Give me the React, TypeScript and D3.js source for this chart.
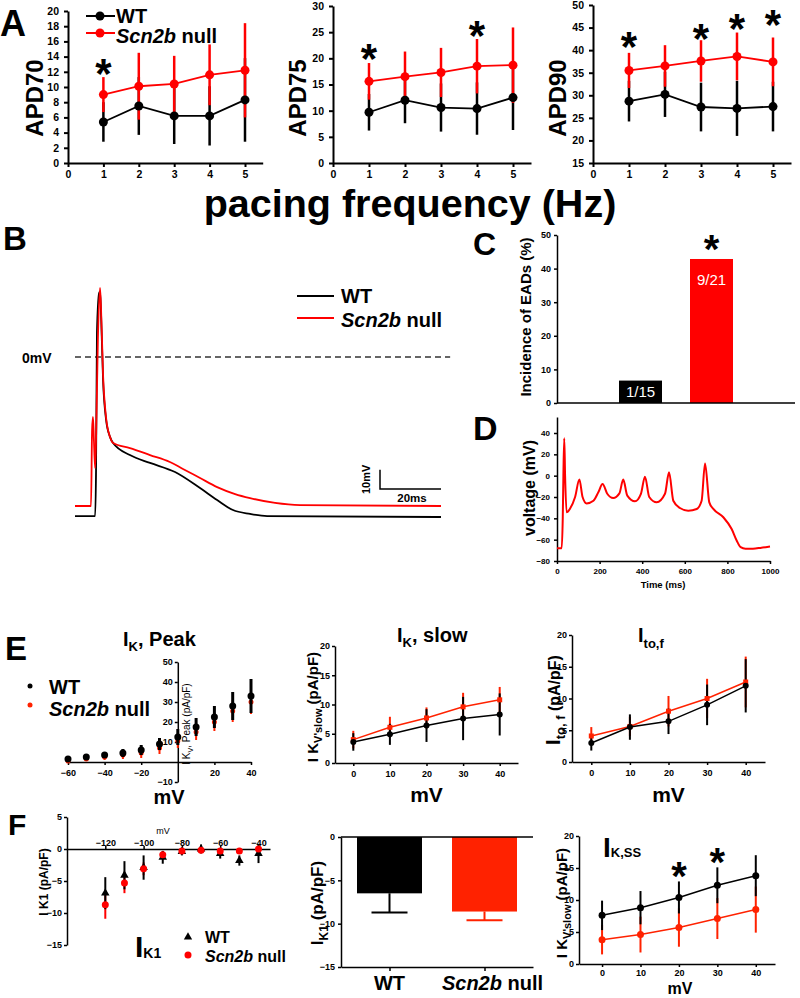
import React, { useEffect, useRef } from "react";
import * as d3 from "d3";

const FONT = "'Liberation Sans', Arial, Helvetica, sans-serif";
const RED = "#ff0000";
const RED2 = "#ff2200";

// ---- A: APD vs pacing frequency ----
const freqs = [1, 2, 3, 4, 5];
const apd70WT = [5.4, 7.5, 6.2, 6.2, 8.3];
const apd70WTsd = [2.6, 3.8, 3.7, 3.9, 5.5];
const apd70KO = [9.0, 10.1, 10.4, 11.6, 12.2];
const apd70KOsd = [2.3, 4.4, 3.7, 4.0, 6.2];
const apd70Star = [{ f: 1, v: 12.9 }];

const apd75WT = [9.7, 12.0, 10.6, 10.4, 12.5];
const apd75WTsd = [3.5, 4.4, 4.6, 5.0, 6.2];
const apd75KO = [15.6, 16.5, 17.3, 18.5, 18.7];
const apd75KOsd = [3.5, 4.8, 4.7, 5.2, 7.2];
const apd75Star = [{ f: 1, v: 21.6 }, { f: 4, v: 26 }];

const apd90WT = [28.7, 30.2, 27.4, 27.1, 27.5];
const apd90WTsd = [4.5, 5.0, 5.4, 6.1, 5.5];
const apd90KO = [35.5, 36.5, 37.6, 38.6, 37.4];
const apd90KOsd = [3.9, 4.6, 4.6, 5.3, 5.4];
const apd90Star = [{ f: 1, v: 42.7 }, { f: 3, v: 44.5 }, { f: 4, v: 46.7 }, { f: 5, v: 47.6 }];

// ---- B: action potentials (ms, mV) ----
const bTimeWT = [0, 6.6, 6.9, 7.2, 7.9, 8.2, 8.5, 9.2, 10.2, 11.5, 12.5, 18, 24.6, 32.8, 41, 46.6, 51.8, 57.4, 63, 120];
const bVoltWT = [-82.4, -82.4, -58.5, 13, 33, 34, 24.4, -11.9, -32.6, -41.5, -44.6, -50.8, -54.9, -59.6, -67.9, -74.1, -79.3, -81.3, -82.4, -82.9];
const bTimeKO = [0, 5.25, 5.6, 5.9, 6.2, 6.6, 6.9, 7.5, 8.2, 8.5, 9.2, 10.2, 11.5, 12.5, 18, 24.6, 31.1, 35.4, 41, 46.6, 52.5, 57.4, 65.6, 73.8, 120];
const bVoltKO = [-77.2, -77.2, -37.8, -31.1, -43, -57.5, -43, 8.8, 35.8, 26.9, -9.3, -31.6, -41.5, -44.6, -47.2, -50.8, -54.4, -58, -62.7, -67.4, -71, -73.1, -75.6, -76.7, -77.2];

// ---- C: incidence of EADs ----
const cGroups = ["WT", "Scn2b null"];
const cValues = [6.67, 42.86];
const cLabels = ["1/15", "9/21"];
const cStar = 48.2;

// ---- D: EAD trace ----
const dTime = [0, 22, 27, 30, 34, 38, 45, 61, 85, 105, 120, 139, 171, 194, 214, 236, 264, 293, 311, 330, 366, 394, 413, 433, 468, 507, 526, 546, 577, 616, 656, 679, 695, 715, 734, 781, 820, 844, 862, 885, 920, 960, 1000];
const dVolt = [-68, -68, -40, 0, 35, 0, -34.4, -31, -20, -3.7, -20, -26, -23.5, -15.6, -7.8, -17, -21, -16.6, -3.7, -18.7, -24, -17, -0.9, -20, -25, -17, 3.1, -23.5, -30.3, -32.8, -31.2, -23.5, 11.5, -25, -31.2, -39, -50, -61, -67, -68.5, -68.5, -67.5, -66.5];

// ---- E: I-V curves ----
const ePeakV = [-60, -50, -40, -30, -20, -10, 0, 10, 20, 30, 40];
const ePeakWT = [1.5, 2.5, 3.5, 4.5, 6, 9, 12.5, 17.5, 22.5, 28, 33];
const ePeakWTsd = [1, 1, 1.5, 2, 2.5, 3, 4, 4.5, 5.5, 7, 8.5];
const ePeakKO = [0.5, 1.5, 2.5, 3.5, 4.5, 7, 10.5, 15, 20, 25.5, 30];
const ePeakKOsd = [1, 1, 1.5, 2, 2.5, 3, 3.5, 4, 4.5, 5.5, 6];

const eV = [0, 10, 20, 30, 40];
const eSlowWT = [3.6, 4.9, 6.4, 7.6, 8.3];
const eSlowWTsd = [1.5, 1.8, 2.8, 3.7, 3.6];
const eSlowKO = [4.0, 6.1, 7.7, 9.6, 10.8];
const eSlowKOsd = [1.5, 1.8, 1.8, 2.4, 2.2];

const eItoWT = [3.0, 5.5, 6.4, 9.0, 12.0];
const eItoWTsd = [1.2, 2.0, 2.0, 3.2, 4.2];
const eItoKO = [4.1, 5.6, 8.0, 10.0, 12.6];
const eItoKOsd = [1.4, 1.5, 2.4, 3.1, 4.0];

// ---- F ----
const fV = [-120, -110, -100, -90, -80, -70, -60, -50, -40];
const fK1WT = [-6.9, -4.1, -2.9, -1.3, -0.4, 0, -0.7, -1.8, -0.7];
const fK1WTsd = [2.5, 2.2, 1.9, 1.0, 0.6, 0.7, 0.8, 0.8, 1.5];
const fK1KO = [-8.7, -5.3, -3.1, -0.9, -0.3, -0.2, -0.3, -0.3, 0];
const fK1KOsd = [2.2, 1.6, 1.0, 0.6, 0.4, 0.3, 0.3, 0.4, 0.3];

const fBarGroups = ["WT", "Scn2b null"];
const fBarMean = [-6.5, -8.6];
const fBarErr = [2.2, 1.0];

const fSsWT = [7.6, 8.8, 10.4, 12.3, 13.8];
const fSsWTsd = [2.3, 2.6, 2.5, 2.8, 3.2];
const fSsKO = [3.8, 4.6, 5.7, 7.1, 8.5];
const fSsKOsd = [2.3, 2.8, 3.0, 3.2, 3.6];
const fSsStars = [{ v: 20, y: 15.1 }, { v: 30, y: 17.3 }];

const fmt = d3.format("d");

//---- helpers ----//
function txt(g, x, y, s, fs, o: any = {}) {
  const t = g.append("text").attr("x", x).attr("y", y).attr("font-size", fs)
    .attr("font-family", FONT).attr("font-weight", o.weight || "bold")
    .attr("fill", o.fill || "#000").attr("text-anchor", o.anchor || "start");
  if (o.rotate) t.attr("transform", `rotate(${o.rotate},${x},${y})`);
  t.text(s);
  return t;
}

function rich(g, x, y, parts, o: any = {}) {
  const t = g.append("text").attr("x", x).attr("y", y).attr("font-family", FONT)
    .attr("font-weight", o.weight || "bold").attr("fill", "#000")
    .attr("text-anchor", o.anchor || "start");
  if (o.rotate) t.attr("transform", `rotate(${o.rotate},${x},${y})`);
  let shift = 0;
  parts.forEach((p) => {
    const s = p.sub || 0;
    t.append("tspan").attr("font-size", p.fs).attr("dy", s - shift)
      .attr("font-style", p.italic ? "italic" : null).text(p.t);
    shift = s;
  });
  return t;
}

function styleAxis(a, fs, sw = 1.5) {
  a.attr("font-family", FONT).attr("font-size", fs);
  a.select(".domain").attr("stroke", "#000").attr("stroke-width", sw);
  a.selectAll(".tick line").attr("stroke", "#000").attr("stroke-width", sw);
  a.selectAll(".tick text").attr("fill", "#000").attr("font-weight", "bold");
}

function errBars(g, xs, ms, sds, x, y, color, w) {
  g.append("g").selectAll("line").data(xs).join("line")
    .attr("x1", (d) => x(d)).attr("x2", (d) => x(d))
    .attr("y1", (d, i) => y(ms[i] - sds[i])).attr("y2", (d, i) => y(ms[i] + sds[i]))
    .attr("stroke", color).attr("stroke-width", w);
}

function lineDots(g, xs, ms, x, y, color, lw, r, shape = "circle") {
  const pts = xs.map((d, i) => [x(d), y(ms[i])]);
  if (lw > 0) {
    g.append("path").attr("d", d3.line()(pts)).attr("fill", "none")
      .attr("stroke", color).attr("stroke-width", lw);
  }
  if (shape === "circle") {
    g.append("g").selectAll("circle").data(pts).join("circle")
      .attr("cx", (d) => d[0]).attr("cy", (d) => d[1]).attr("r", r).attr("fill", color);
  } else {
    const sym = d3.symbol(shape === "square" ? d3.symbolSquare : d3.symbolTriangle, r * r * 4);
    g.append("g").selectAll("path").data(pts).join("path")
      .attr("transform", (d) => `translate(${d[0]},${d[1]})`).attr("d", sym()).attr("fill", color);
  }
}

function star(g, cx, cy, fs) {
  txt(g, cx, cy + 0.56 * fs, "*", fs, { anchor: "middle" });
}

function nullLabel(g, x, y, fs, anchor = "start") {
  return rich(g, x, y, [{ t: "Scn2b", fs, italic: true }, { t: " null", fs }], { anchor });
}

//---- panels ----//
function drawA(svg) {
  const g = svg.append("g");
  txt(g, 0, 36, "A", 36);
  const panels = [
    { name: "APD70", wt: apd70WT, wtSd: apd70WTsd, ko: apd70KO, koSd: apd70KOsd, stars: apd70Star, yDom: [0, 20], yStep: 2, x0: 68, x5: 245, yTop: 11, labelX: 43 },
    { name: "APD75", wt: apd75WT, wtSd: apd75WTsd, ko: apd75KO, koSd: apd75KOsd, stars: apd75Star, yDom: [0, 30], yStep: 5, x0: 333, x5: 513, yTop: 6, labelX: 306 },
    { name: "APD90", wt: apd90WT, wtSd: apd90WTsd, ko: apd90KO, koSd: apd90KOsd, stars: apd90Star, yDom: [15, 50], yStep: 5, x0: 593, x5: 773, yTop: 5, labelX: 566 },
  ];
  panels.forEach((p) => {
    const unit = (p.x5 - p.x0) / 5;
    const x = d3.scaleLinear().domain([0, 5.5]).range([p.x0, p.x0 + 5.5 * unit]);
    const y = d3.scaleLinear().domain(p.yDom).range([163, p.yTop]);
    const ya = g.append("g").attr("transform", `translate(${p.x0},0)`)
      .call(d3.axisLeft(y).tickValues(d3.range(p.yDom[0], p.yDom[1] + 0.1, p.yStep)).tickFormat(fmt).tickSize(4).tickSizeOuter(0).tickPadding(5));
    styleAxis(ya, 10.5, 2);
    const xa = g.append("g").attr("transform", "translate(0,163)")
      .call(d3.axisBottom(x).tickValues(d3.range(0, 6)).tickFormat(fmt).tickSize(4).tickSizeOuter(0).tickPadding(4));
    styleAxis(xa, 10.5, 2);
    errBars(g, freqs, p.wt, p.wtSd, x, y, "#000", 2.5);
    errBars(g, freqs, p.ko, p.koSd, x, y, RED, 2.5);
    lineDots(g, freqs, p.wt, x, y, "#000", 1.8, 4.5);
    lineDots(g, freqs, p.ko, x, y, RED, 1.8, 4.5);
    p.stars.forEach((s) => star(g, x(s.f), y(s.v), 42));
    txt(g, p.labelX, 98, p.name, 24, { rotate: -90, anchor: "middle" });
  });
  txt(g, 410, 217, "pacing frequency (Hz)", 39.5, { anchor: "middle" });
  // legend
  g.append("line").attr("x1", 86).attr("x2", 115).attr("y1", 16).attr("y2", 16).attr("stroke", "#000").attr("stroke-width", 2);
  g.append("circle").attr("cx", 100).attr("cy", 16).attr("r", 4.5).attr("fill", "#000");
  txt(g, 116, 23, "WT", 20);
  g.append("line").attr("x1", 86).attr("x2", 115).attr("y1", 33).attr("y2", 33).attr("stroke", RED).attr("stroke-width", 2);
  g.append("circle").attr("cx", 100).attr("cy", 33).attr("r", 4.5).attr("fill", RED);
  nullLabel(g, 116, 43, 20);
}

function drawB(svg) {
  const g = svg.append("g");
  txt(g, 3, 250, "B", 33);
  const x = d3.scaleLinear().domain([0, 120]).range([75, 441]);
  const y = d3.scaleLinear().domain([-90, 40]).range([357 + 90 * 1.93, 357 - 40 * 1.93]);
  const line = d3.line().curve(d3.curveMonotoneX);
  g.append("line").attr("x1", x(0)).attr("x2", x(123)).attr("y1", y(0)).attr("y2", y(0))
    .attr("stroke", "#333").attr("stroke-width", 1.5).attr("stroke-dasharray", "6,4");
  txt(g, 22, y(0) + 6, "0mV", 14);
  g.append("path").attr("d", line(bTimeWT.map((t, i) => [x(t), y(bVoltWT[i])])))
    .attr("fill", "none").attr("stroke", "#000").attr("stroke-width", 1.8);
  g.append("path").attr("d", line(bTimeKO.map((t, i) => [x(t), y(bVoltKO[i])])))
    .attr("fill", "none").attr("stroke", RED).attr("stroke-width", 1.8);
  // scale bar
  g.append("path").attr("d", `M${x(100)},${y(-58.4)}V${y(-68.4)}H${x(120)}`)
    .attr("fill", "none").attr("stroke", "#000").attr("stroke-width", 1.5);
  txt(g, x(100) - 10, (y(-58.4) + y(-68.4)) / 2, "10mV", 11, { rotate: -90, anchor: "middle" });
  txt(g, x(110.5), y(-68.4) + 13, "20ms", 11.5, { anchor: "middle" });
  // legend
  g.append("line").attr("x1", 297).attr("x2", 334).attr("y1", 296).attr("y2", 296).attr("stroke", "#000").attr("stroke-width", 1.8);
  txt(g, 341, 303, "WT", 20);
  g.append("line").attr("x1", 297).attr("x2", 334).attr("y1", 318).attr("y2", 318).attr("stroke", RED).attr("stroke-width", 1.8);
  nullLabel(g, 341, 327, 20);
}

function drawC(svg) {
  const g = svg.append("g");
  txt(g, 473, 255, "C", 32);
  const y = d3.scaleLinear().domain([0, 50]).range([403, 235]);
  const x = d3.scalePoint().domain(cGroups).range([640.5, 711.5]);
  const bw = 43;
  g.append("g").selectAll("rect").data(cGroups).join("rect")
    .attr("x", (d) => x(d) - bw / 2).attr("width", bw)
    .attr("y", (d, i) => y(cValues[i])).attr("height", (d, i) => y(0) - y(cValues[i]))
    .attr("fill", (d, i) => (i === 0 ? "#000" : RED));
  cGroups.forEach((d, i) => {
    txt(g, x(d), Math.min(y(cValues[i]) + 26, y(0) - 6), cLabels[i], 15, { anchor: "middle", weight: "normal", fill: "#fff" });
  });
  star(g, x(cGroups[1]), y(cStar), 40);
  const ya = g.append("g").attr("transform", "translate(557,0)")
    .call(d3.axisLeft(y).tickValues(d3.range(0, 51, 10)).tickSize(3).tickSizeOuter(0).tickPadding(3));
  styleAxis(ya, 9, 1.5);
  g.append("line").attr("x1", 557).attr("x2", 795).attr("y1", y(0)).attr("y2", y(0)).attr("stroke", "#000").attr("stroke-width", 1.5);
  txt(g, 531, 317, "Incidence of EADs (%)", 15, { rotate: -90, anchor: "middle" });
}

function drawD(svg) {
  const g = svg.append("g");
  txt(g, 473, 440, "D", 34);
  const x = d3.scaleLinear().domain([0, 1000]).range([557, 770]);
  const y = d3.scaleLinear().domain([-80, 55]).range([561, 417]);
  const ya = g.append("g").attr("transform", "translate(557,0)")
    .call(d3.axisLeft(y).tickValues(d3.range(-80, 41, 20)).tickSize(3).tickSizeOuter(0).tickPadding(4));
  styleAxis(ya, 8, 1.5);
  const xa = g.append("g").attr("transform", "translate(0,561)")
    .call(d3.axisBottom(x).tickValues(d3.range(0, 1001, 200)).tickFormat(fmt).tickSize(3).tickSizeOuter(0).tickPadding(4));
  styleAxis(xa, 8, 1.5);
  g.append("path").attr("d", d3.line().curve(d3.curveMonotoneX)(dTime.map((t, i) => [x(t), y(dVolt[i])])))
    .attr("fill", "none").attr("stroke", RED).attr("stroke-width", 2);
  txt(g, 663, 588, "Time (ms)", 9.5, { anchor: "middle" });
  txt(g, 535, 488, "voltage (mV)", 16, { rotate: -90, anchor: "middle" });
}

function drawE(svg) {
  const g = svg.append("g");
  txt(g, 5, 660, "E", 33);
  // --- IK peak ---
  const xp = d3.scaleLinear().domain([-60, 40]).range([68, 251]);
  const yp = d3.scaleLinear().domain([-10, 50]).range([782, 662]);
  const ya = g.append("g").attr("transform", `translate(${xp(0)},0)`)
    .call(d3.axisLeft(yp).tickValues([-10, 10, 20, 30, 40, 50]).tickSize(3).tickSizeOuter(0).tickPadding(2));
  styleAxis(ya, 9, 1.5);
  const xa = g.append("g").attr("transform", `translate(0,${yp(0)})`)
    .call(d3.axisBottom(xp).tickValues([-60, -40, -20, 20, 40]).tickSize(3).tickSizeOuter(0).tickPadding(5));
  styleAxis(xa, 9, 1.5);
  errBars(g, ePeakV, ePeakKO, ePeakKOsd, xp, yp, RED2, 2);
  lineDots(g, ePeakV, ePeakKO, xp, yp, RED2, 0, 2.5);
  errBars(g, ePeakV, ePeakWT, ePeakWTsd, xp, yp, "#000", 3);
  lineDots(g, ePeakV, ePeakWT, xp, yp, "#000", 0, 3.5);
  rich(g, 123, 646, [{ t: "I", fs: 20 }, { t: "K", fs: 13, sub: 5 }, { t: ", Peak", fs: 20 }]);
  rich(g, 190, 724, [{ t: "I K", fs: 10 }, { t: "V", fs: 7, sub: 3 }, { t: ", Peak (pA/pF)", fs: 10 }], { rotate: -90, anchor: "middle", weight: "normal" });
  txt(g, 169, 804, "mV", 20, { anchor: "middle" });
  g.append("circle").attr("cx", 30).attr("cy", 686).attr("r", 2.5).attr("fill", "#000");
  txt(g, 49, 693.5, "WT", 20);
  g.append("circle").attr("cx", 30).attr("cy", 705).attr("r", 2.5).attr("fill", RED2);
  nullLabel(g, 49, 716, 20);

  // --- IK slow / Ito,f ---
  const sub = [
    { wt: eSlowWT, wtSd: eSlowWTsd, ko: eSlowKO, koSd: eSlowKOsd, x0: 335, x1: 518, y0: 763, y1: 646, title: [{ t: "I", fs: 20 }, { t: "K", fs: 13, sub: 5 }, { t: ", slow", fs: 20 }], tx: 397, ylab: [{ t: "I K", fs: 15 }, { t: "V'slow", fs: 11, sub: 4 }, { t: " (pA/pF)", fs: 15 }], lx: 318, ly: 707 },
    { wt: eItoWT, wtSd: eItoWTsd, ko: eItoKO, koSd: eItoKOsd, x0: 572, x1: 765, y0: 762, y1: 635, title: [{ t: "I", fs: 20 }, { t: "to,f", fs: 13, sub: 6 }], tx: 638, ylab: [{ t: "I", fs: 20 }, { t: "to, f", fs: 13, sub: 5 }, { t: " (pA/pF)", fs: 16 }], lx: 560, ly: 700 },
  ];
  sub.forEach((p) => {
    const x = d3.scaleLinear().domain([-5, 45]).range([p.x0, p.x1]);
    const y = d3.scaleLinear().domain([0, 20]).range([p.y0, p.y1]);
    const ya2 = g.append("g").attr("transform", `translate(${p.x0},0)`)
      .call(d3.axisLeft(y).tickValues(d3.range(0, 21, 5)).tickSize(3).tickSizeOuter(0).tickPadding(2));
    styleAxis(ya2, 9, 1.5);
    const xa2 = g.append("g").attr("transform", `translate(0,${p.y0})`)
      .call(d3.axisBottom(x).tickValues(eV).tickSize(3).tickSizeOuter(0).tickPadding(5));
    styleAxis(xa2, 9, 1.5);
    errBars(g, eV, p.ko, p.koSd, x, y, RED2, 2);
    errBars(g, eV, p.wt, p.wtSd, x, y, "#000", 2);
    lineDots(g, eV, p.ko, x, y, RED2, 1.5, 2.5, "square");
    lineDots(g, eV, p.wt, x, y, "#000", 1.5, 3);
    rich(g, p.tx, 642, p.title);
    rich(g, p.lx, p.ly, p.ylab, { rotate: -90, anchor: "middle" });
    txt(g, x(20), 802, "mV", 21, { anchor: "middle" });
  });
}

function drawF(svg) {
  const g = svg.append("g");
  txt(g, 8, 835, "F", 30);
  // --- IK1 I-V ---
  const x = d3.scaleLinear().domain([-140, -34]).range([67, 270]);
  const y = d3.scaleLinear().domain([-15, 5]).range([945, 817]);
  const ya = g.append("g").attr("transform", "translate(67,0)")
    .call(d3.axisLeft(y).tickValues([5, 0, -5, -10, -15]).tickSize(3).tickSizeOuter(0).tickPadding(2));
  styleAxis(ya, 9, 1.5);
  const xa = g.append("g").attr("transform", `translate(0,${y(0)})`)
    .call(d3.axisTop(x).tickValues(d3.range(-120, -39, 20)).tickSize(3).tickSizeOuter(0).tickPadding(0));
  styleAxis(xa, 9, 1.5);
  errBars(g, fV, fK1KO, fK1KOsd, x, y, RED, 2);
  errBars(g, fV, fK1WT, fK1WTsd, x, y, "#000", 2);
  lineDots(g, fV, fK1WT, x, y, "#000", 0, 2.8, "triangle");
  lineDots(g, fV, fK1KO, x, y, RED, 0, 3.5);
  txt(g, 163, 834, "mV", 9, { anchor: "middle", weight: "normal" });
  txt(g, 48, 882, "I K1 (pA/pF)", 12, { rotate: -90, anchor: "middle" });
  rich(g, 135, 957, [{ t: "I", fs: 30 }, { t: "K1", fs: 14, sub: 1 }]);
  g.append("path").attr("transform", "translate(188,937)").attr("d", d3.symbol(d3.symbolTriangle, 30)()).attr("fill", "#000");
  txt(g, 205, 943, "WT", 16);
  g.append("circle").attr("cx", 188).attr("cy", 955).attr("r", 3.5).attr("fill", RED);
  nullLabel(g, 205, 962, 16);

  // --- IK1 bars ---
  const yb = d3.scaleLinear().domain([-15, 0]).range([967, 837]);
  const xb = d3.scalePoint().domain(fBarGroups).range([389.5, 484.5]);
  const bw = 65;
  const cols = ["#000", RED2];
  g.append("g").selectAll("rect").data(fBarGroups).join("rect")
    .attr("x", (d) => xb(d) - bw / 2).attr("width", bw)
    .attr("y", yb(0)).attr("height", (d, i) => yb(fBarMean[i]) - yb(0))
    .attr("fill", (d, i) => cols[i]);
  fBarGroups.forEach((d, i) => {
    const lo = yb(fBarMean[i] - fBarErr[i]);
    g.append("path").attr("d", `M${xb(d)},${yb(fBarMean[i])}V${lo}M${xb(d) - 18},${lo}H${xb(d) + 18}`)
      .attr("stroke", cols[i]).attr("stroke-width", 2).attr("fill", "none");
  });
  const yba = g.append("g").attr("transform", "translate(341,0)")
    .call(d3.axisLeft(yb).tickValues([0, -5, -10, -15]).tickSize(3).tickSizeOuter(0).tickPadding(3));
  styleAxis(yba, 9, 1.5);
  g.append("line").attr("x1", 341).attr("x2", 533).attr("y1", yb(0)).attr("y2", yb(0)).attr("stroke", "#000").attr("stroke-width", 1.5);
  const xba = g.append("g").attr("transform", `translate(0,${yb(-15)})`)
    .call(d3.axisBottom(d3.scaleLinear().domain([341, 533]).range([341, 533])).tickValues(fBarGroups.map((d) => xb(d))).tickFormat(() => "").tickSize(4).tickSizeOuter(0));
  styleAxis(xba, 9, 1.5);
  txt(g, xb("WT"), 990, "WT", 20, { anchor: "middle" });
  nullLabel(g, xb("Scn2b null") + 8, 990, 20, "middle");
  rich(g, 323, 903, [{ t: "I", fs: 17 }, { t: "K1", fs: 12, sub: 5 }, { t: " (pA/pF)", fs: 17 }], { rotate: -90, anchor: "middle" });

  // --- IK,ss ---
  const xs = d3.scaleLinear().domain([-6, 45]).range([579, 775]);
  const ys = d3.scaleLinear().domain([0, 20]).range([964, 836]);
  const ysa = g.append("g").attr("transform", "translate(579,0)")
    .call(d3.axisLeft(ys).tickValues(d3.range(0, 21, 5)).tickSize(3).tickSizeOuter(0).tickPadding(2));
  styleAxis(ysa, 9, 1.5);
  const xsa = g.append("g").attr("transform", "translate(0,964)")
    .call(d3.axisBottom(xs).tickValues(eV).tickSize(3).tickSizeOuter(0).tickPadding(3));
  styleAxis(xsa, 9, 1.5);
  errBars(g, eV, fSsKO, fSsKOsd, xs, ys, RED2, 2);
  errBars(g, eV, fSsWT, fSsWTsd, xs, ys, "#000", 2);
  lineDots(g, eV, fSsKO, xs, ys, RED2, 1.5, 3.5);
  lineDots(g, eV, fSsWT, xs, ys, "#000", 1.5, 3.5);
  fSsStars.forEach((s) => star(g, xs(s.v), ys(s.y), 40));
  rich(g, 603, 857, [{ t: "I", fs: 28 }, { t: "K,SS", fs: 13 }]);
  rich(g, 567, 903, [{ t: "I K", fs: 15 }, { t: "V'slow", fs: 11, sub: 4 }, { t: " (pA/pF)", fs: 15 }], { rotate: -90, anchor: "middle" });
  txt(g, 680, 994, "mV", 16, { anchor: "middle" });
}

export default function App() {
  const ref = useRef<SVGSVGElement>(null);
  useEffect(() => {
    const svg = d3.select(ref.current);
    svg.selectAll("*").remove();
    drawA(svg);
    drawB(svg);
    drawC(svg);
    drawD(svg);
    drawE(svg);
    drawF(svg);
  }, []);
  return (
    <div style={{ position: "absolute", left: 0, top: 0 }}>
      <svg ref={ref} width={800} height={998} style={{ display: "block", background: "#fff" }} />
    </div>
  );
}
